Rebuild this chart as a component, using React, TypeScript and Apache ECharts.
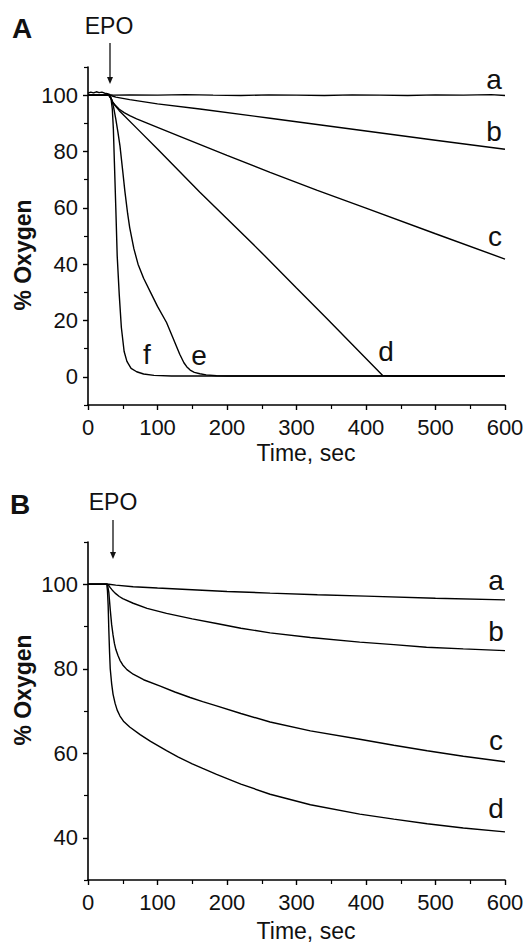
import React, { useEffect, useRef } from "react";
import * as echarts from "echarts";

// ---------- data ----------
const xTickLabels = [0, 100, 200, 300, 400, 500, 600];
const yTopLabels = [0, 20, 40, 60, 80, 100];
const yTopMinor = [-10, 10, 30, 50, 70, 90, 110];
const yBotLabels = [40, 60, 80, 100];
const yBotMinor = [30, 50, 70, 90, 110];

// Panel A
const aA_t = [0, 4, 8, 12, 16, 20, 24, 28, 32, 36, 60, 100, 140, 180, 220, 260, 300, 340, 380, 420, 460, 500, 540, 580, 600];
const aA_v = [100.7, 101.1, 100.8, 101.2, 100.9, 101.1, 100.7, 100.5, 100.2, 100, 100.1, 100, 100.2, 100, 99.9, 100.1, 100, 99.9, 100.1, 100, 99.9, 100.1, 100, 100.2, 99.9];
const bA_t = [0, 30, 35, 40, 60, 100, 161, 262, 400, 500, 600];
const bA_v = [100, 100, 99.7, 99.3, 98.4, 96.9, 95.1, 91.8, 87.3, 84.0, 80.8];
const cA_t = [0, 30, 33, 36, 40, 45, 52, 60, 70, 85, 100, 132, 200, 262, 330, 400, 500, 600];
const cA_v = [100, 100, 98.8, 97.4, 96.2, 95, 93.8, 92.7, 91.6, 90.1, 88.6, 85.4, 78.6, 72.6, 66.2, 59.9, 50.8, 41.8];
const dA_t = [0, 30, 33, 36, 45, 70, 100, 161, 247, 300, 344, 400, 424, 440, 600];
const dA_v = [100, 100, 99, 97.2, 94.5, 88.3, 80.9, 65.5, 44.8, 31.5, 20.6, 6.5, 0.5, 0.3, 0.3];
const eA_t = [0, 30, 34, 37, 40, 43, 46, 50, 53, 57, 60, 66, 72, 80, 90, 100, 113, 122, 132, 138, 142, 147, 153, 161, 170, 185, 200, 600];
const eA_v = [100, 100, 98.5, 95.5, 91.5, 87, 82, 73, 66, 58, 53, 45.5, 40, 35, 30, 25, 19.3, 14, 8, 5, 3.6, 2.4, 1.6, 1.1, 0.7, 0.4, 0.3, 0.3];
const fA_t = [0, 30, 33, 35, 36.5, 38, 40, 42, 45, 48, 52, 56, 62, 70, 80, 95, 120, 600];
const fA_v = [100, 100, 99, 95, 88, 76, 60, 43, 29, 17.5, 9, 5.5, 3, 1.8, 1, 0.5, 0.3, 0.3];

// Panel B
const aB_t = [0, 30, 40, 65, 100, 150, 200, 262, 330, 400, 500, 600];
const aB_v = [100, 100, 99.8, 99.4, 99.1, 98.7, 98.3, 97.9, 97.5, 97.2, 96.7, 96.3];
const bB_t = [0, 28, 30, 32, 35, 39, 45, 50, 65, 85, 113, 150, 185, 220, 262, 320, 391, 440, 487, 540, 600];
const bB_v = [100, 100, 99.7, 99.2, 98.6, 97.9, 97.1, 96.6, 95.5, 94.3, 93.1, 91.8, 90.7, 89.6, 88.5, 87.4, 86.3, 85.7, 85.1, 84.7, 84.3];
const cB_t = [0, 28, 30, 32, 34, 36, 38, 40, 43, 46, 50, 56, 65, 80, 104, 125, 147, 165, 185, 220, 262, 320, 391, 440, 488, 540, 600];
const cB_v = [100, 100, 98, 94, 90.5, 88, 86, 84.6, 83.2, 82, 80.9, 79.8, 78.7, 77.4, 75.9, 74.5, 73.2, 72.2, 71.2, 69.4, 67.4, 65.3, 63.3, 61.9, 60.6, 59.3, 58];
const dB_t = [0, 27, 28, 29, 30, 31, 32, 34, 36, 39, 42, 46, 51, 60, 75, 90, 113, 130, 150, 165, 185, 220, 262, 320, 391, 440, 488, 540, 600];
const dB_v = [100, 100, 98.5, 95, 89, 84, 80, 76.5, 74, 71.8, 70.2, 68.8, 67.6, 66.2, 64.4, 62.8, 60.6, 59.1, 57.5, 56.4, 55, 52.7, 50.3, 47.8, 45.6, 44.4, 43.3, 42.3, 41.4];

const seriesA = [
  [aA_t, aA_v],
  [bA_t, bA_v],
  [cA_t, cA_v],
  [dA_t, dA_v],
  [eA_t, eA_v],
  [fA_t, fA_v],
];
const seriesB = [
  [aB_t, aB_v],
  [bB_t, bB_v],
  [cB_t, cB_v],
  [dB_t, dB_v],
];

const FONT = "'Liberation Sans', Arial, sans-serif";

const zip = (t: number[], v: number[]) => t.map((x, i) => [x, v[i]]);

function makeX(gridIndex: number) {
  return {
    type: "value",
    gridIndex,
    min: 0,
    max: 600,
    interval: 100,
    axisLine: { show: true, onZero: false, lineStyle: { color: "#000", width: 1.6 } },
    axisTick: { show: true, length: 5, lineStyle: { color: "#000", width: 1.4 } },
    minorTick: { show: true, splitNumber: 2, length: 4, lineStyle: { color: "#000", width: 1.2 } },
    axisLabel: {
      margin: 11,
      fontSize: 22,
      color: "#111",
      fontFamily: FONT,
      formatter: (v: number) => (xTickLabels.includes(v) ? String(v) : ""),
    },
    splitLine: { show: false },
    minorSplitLine: { show: false },
  };
}

function makeY(gridIndex: number, min: number, max: number, labels: number[], minor: number[]) {
  return [
    {
      type: "value",
      gridIndex,
      position: "left",
      min,
      max,
      axisLine: { show: true, onZero: false, lineStyle: { color: "#000", width: 1.6 } },
      axisTick: { show: true, length: 5, customValues: labels, lineStyle: { color: "#000", width: 1.4 } },
      axisLabel: { customValues: labels, margin: 10, fontSize: 22, color: "#111", fontFamily: FONT },
      splitLine: { show: false },
    },
    {
      type: "value",
      gridIndex,
      position: "left",
      offset: 0,
      min,
      max,
      axisLine: { show: false, onZero: false },
      axisTick: { show: true, length: 4, customValues: minor, lineStyle: { color: "#000", width: 1.2 } },
      axisLabel: { show: false },
      splitLine: { show: false },
    },
  ];
}

function txt(text: string, x: number, y: number, size: number, bold = false, rotation = 0) {
  return {
    type: "text",
    x,
    y,
    rotation,
    silent: true,
    style: {
      text,
      x: 0,
      y: 0,
      fill: "#111",
      font: `${bold ? "bold " : ""}${size}px ${FONT}`,
      align: "center",
      verticalAlign: "middle",
    },
  };
}

function arrow(x: number, y1: number, y2: number) {
  return [
    { type: "line", silent: true, shape: { x1: x, y1, x2: x, y2: y2 - 4 }, style: { stroke: "#111", lineWidth: 1.3 } },
    {
      type: "polygon",
      silent: true,
      shape: { points: [[x - 3, y2 - 7], [x + 3, y2 - 7], [x, y2]] },
      style: { fill: "#111" },
    },
  ];
}

export default function App() {
  const ref = useRef<HTMLDivElement>(null);
  useEffect(() => {
    if (!ref.current) return;
    const chart = echarts.init(ref.current, null, { renderer: "svg" });
    const lineBase = {
      type: "line",
      showSymbol: false,
      symbol: "none",
      smooth: false,
      silent: true,
      lineStyle: { color: "#000", width: 1.4 },
    };
    const series = [
      ...seriesA.map(([t, v]) => ({ ...lineBase, xAxisIndex: 0, yAxisIndex: 0, data: zip(t, v) })),
      ...seriesB.map(([t, v]) => ({ ...lineBase, xAxisIndex: 1, yAxisIndex: 2, data: zip(t, v) })),
    ];
    const option = {
      animation: false,
      backgroundColor: "#fff",
      grid: [
        { left: 88, right: 22, top: 67, height: 338 },
        { left: 88, right: 22, top: 542, height: 338 },
      ],
      xAxis: [makeX(0), makeX(1)],
      yAxis: [...makeY(0, -10, 110, yTopLabels, yTopMinor), ...makeY(1, 30, 110, yBotLabels, yBotMinor)],
      series,
      graphic: [
        txt("A", 22, 28, 28, true),
        txt("B", 20, 504, 28, true),
        txt("EPO", 109, 26, 23),
        txt("EPO", 113, 502, 23),
        ...arrow(110, 43, 84),
        ...arrow(113, 520, 559),
        txt("% Oxygen", 23, 255, 23, true, Math.PI / 2),
        txt("% Oxygen", 23, 690, 23, true, Math.PI / 2),
        txt("Time, sec", 306, 453, 23),
        txt("Time, sec", 306, 931, 23),
        txt("a", 494, 79, 28),
        txt("b", 494, 131, 28),
        txt("c", 495, 236, 28),
        txt("d", 386, 351, 28),
        txt("f", 147, 354, 28),
        txt("e", 199, 355, 28),
        txt("a", 496, 580, 28),
        txt("b", 496, 631, 28),
        txt("c", 496, 740, 28),
        txt("d", 496, 808, 28),
      ],
    };
    chart.setOption(option as any);
    return () => chart.dispose();
  }, []);
  return (
    <div
      ref={ref}
      style={{ position: "fixed", left: 0, top: 0, width: 527, height: 945, background: "#fff" }}
    />
  );
}
